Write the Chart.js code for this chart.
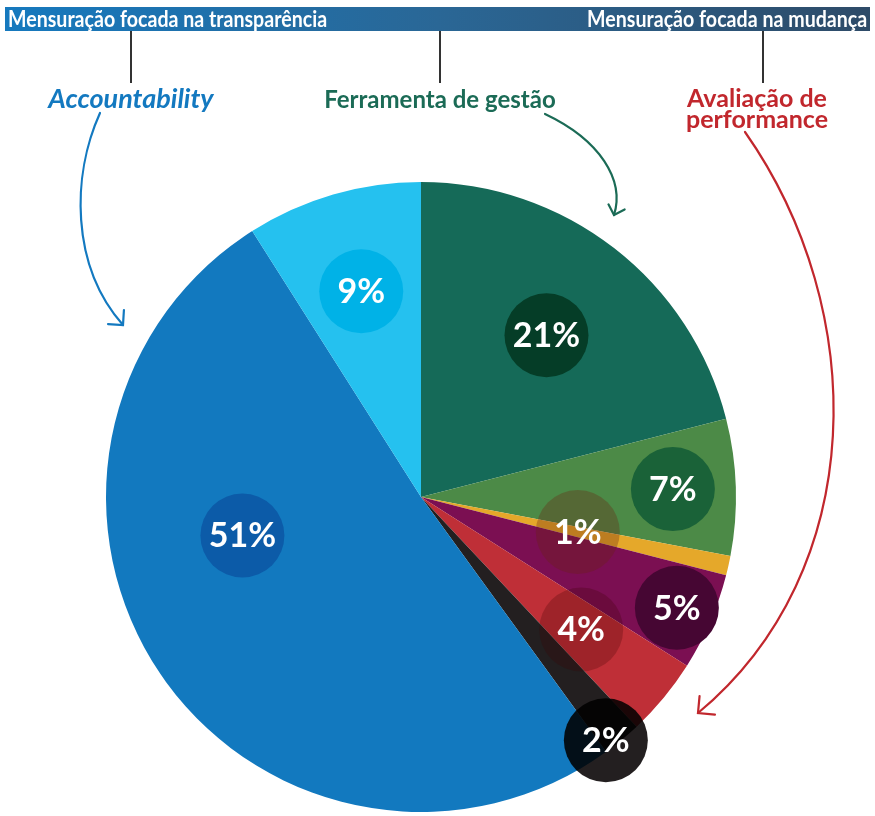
<!DOCTYPE html>
<html>
<head>
<meta charset="utf-8">
<script src="https://cdn.jsdelivr.net/npm/chart.js@4.4.1/dist/chart.umd.min.js"></script>
<style>
body { margin: 0; background: #fff; }
#wrap { position: relative; width: 875px; height: 816px; overflow: hidden; }
#topbar {
    position: absolute; left: 5px; top: 7px; width: 865px; height: 24px;
    background: linear-gradient(to right, #1679be, #2a6796 50%, #2e4b68);
    color: #fff; font-family: Lato, "Noto Sans", sans-serif;
    font-weight: bold; font-size: 22px; line-height: 24px;
}
#topbar span { position: absolute; top: 0; display: inline-block; white-space: nowrap; }
#topbar .l { left: 3px; transform-origin: left center; }
#topbar .r { right: 3px; transform-origin: right center; }
.tag {
    position: absolute; font-family: Lato, "Noto Sans", sans-serif; font-weight: bold;
    font-size: 24px; line-height: 22px; text-align: center; width: 260px;
}
canvas { position: absolute; left: 0; top: 0; }
</style>
</head>
<body>
<div id="wrap">
    <canvas id="chartPie" width="875" height="816"></canvas>
    <div id="topbar">
        <span class="l" data-w="319">Mensuração focada na transparência</span>
        <span class="r" data-w="280">Mensuração focada na mudança</span>
    </div>
    <div class="tag" style="left:1px; top:87px; color:#1379c0; font-style:italic; font-size:27px;">Accountability</div>
    <div class="tag" style="left:310px; top:88px; color:#1b6b56;">Ferramenta de gestão</div>
    <div class="tag" style="left:627px; top:87px; color:#c1272d; font-size:25px; line-height:21px;">Avaliação de<br>performance</div>
</div>
<script>
// ajusta largura do texto da barra (fonte condensada nao disponivel)
document.querySelectorAll('#topbar span').forEach(function(s) {
    s.style.transform = 'scaleX(' + (s.dataset.w / s.offsetWidth) + ')';
});

// fatias no sentido horário a partir do topo
var categorias = ['Ferramenta de gestão A', 'Ferramenta de gestão B', 'Avaliação de performance A',
    'Avaliação de performance B', 'Avaliação de performance C', 'Avaliação de performance D',
    'Accountability A', 'Accountability B'];
var valores = [21, 7, 1, 5, 4, 2, 51, 9];
var rotulos = ['21%', '7%', '1%', '5%', '4%', '2%', '51%', '9%'];

var coresFatia = ['#156a58', '#4c8a47', '#e5a82a', '#7b0f52', '#bf2f37', '#231f20', '#1279bf', '#25c1ef'];
// circulos dos rotulos: cor, modo de mistura, posicao relativa (fração do angulo, fração do raio)
var circulos = [
    { cor: '#053d27', modo: 'source-over', a: 0.5, r: 0.65 },
    { cor: '#1a6238', modo: 'source-over', a: 0.5, r: 0.80 },
    { cor: 'rgba(105,35,15,0.32)', modo: 'source-over', a: 0.5, r: 0.51 },
    { cor: '#460633', modo: 'source-over', a: 0.5, r: 0.885 },
    { cor: 'rgba(60,0,0,0.25)', modo: 'source-over', a: 0.5, r: 0.66 },
    { cor: '#231f20', modo: 'multiply', a: 0.83, r: 0.97 },
    { cor: '#0c5ba8', modo: 'source-over', a: 0.62, r: 0.58 },
    { cor: '#00b2e7', modo: 'source-over', a: 0.5, r: 0.68 }
];

function seta(ctx, pts, cor, braco) {
    ctx.save();
    ctx.strokeStyle = cor;
    ctx.lineWidth = 2.2;
    ctx.lineCap = 'round';
    ctx.beginPath();
    ctx.moveTo(pts[0][0], pts[0][1]);
    ctx.bezierCurveTo(pts[1][0], pts[1][1], pts[2][0], pts[2][1], pts[3][0], pts[3][1]);
    ctx.stroke();
    // ponta da seta
    var ang = Math.atan2(pts[3][1] - pts[2][1], pts[3][0] - pts[2][0]);
    ctx.beginPath();
    ctx.moveTo(pts[3][0] + braco * Math.cos(ang + Math.PI * 0.75), pts[3][1] + braco * Math.sin(ang + Math.PI * 0.75));
    ctx.lineTo(pts[3][0], pts[3][1]);
    ctx.lineTo(pts[3][0] + braco * Math.cos(ang - Math.PI * 0.75), pts[3][1] + braco * Math.sin(ang - Math.PI * 0.75));
    ctx.stroke();
    ctx.restore();
}

var decoracao = {
    id: 'decoracao',
    afterDraw: function(chart) {
        var ctx = chart.ctx;
        // linhas verticais sob a barra
        ctx.save();
        ctx.strokeStyle = '#333';
        ctx.lineWidth = 2;
        [131, 440, 763].forEach(function(x) {
            ctx.beginPath();
            ctx.moveTo(x, 31);
            ctx.lineTo(x, 83);
            ctx.stroke();
        });
        ctx.restore();

        seta(ctx, [[100, 113], [72, 175], [70, 265], [123, 325]], '#1379c0', 15);
        seta(ctx, [[545, 114], [600, 140], [625, 180], [614, 215]], '#1b6b56', 12);
        seta(ctx, [[745, 132], [870, 310], [870, 570], [698, 713]], '#c1272d', 17);
    },
    afterDatasetsDraw: function(chart) {
        var ctx = chart.ctx;
        var arcs = chart.getDatasetMeta(0).data;
        arcs.forEach(function(arc, i) {
            var c = circulos[i];
            var ang = arc.startAngle + (arc.endAngle - arc.startAngle) * c.a;
            var rr = arc.outerRadius * c.r;
            var x = arc.x + rr * Math.cos(ang);
            var y = arc.y + rr * Math.sin(ang);
            ctx.save();
            ctx.globalCompositeOperation = c.modo;
            ctx.fillStyle = c.cor;
            ctx.beginPath();
            ctx.arc(x, y, 42, 0, Math.PI * 2);
            ctx.fill();
            ctx.restore();
            ctx.save();
            ctx.fillStyle = '#fff';
            ctx.font = 'bold 34px Lato, "Noto Sans", sans-serif';
            ctx.textAlign = 'center';
            ctx.textBaseline = 'middle';
            ctx.fillText(rotulos[i], x, y + 1);
            ctx.restore();
        });
    }
};

var chartPie = new Chart(document.getElementById('chartPie'), {
    type: 'pie',
    data: {
        labels: categorias,
        datasets: [{
            data: valores,
            backgroundColor: coresFatia,
            borderWidth: 0,
            hoverOffset: 0
        }]
    },
    options: {
        responsive: false,
        animation: false,
        devicePixelRatio: 1,
        layout: {
            padding: { left: 106, right: 139, top: 182, bottom: 4 }
        },
        plugins: {
            legend: { display: false },
            tooltip: { enabled: false }
        }
    },
    plugins: [decoracao]
});
</script>
</body>
</html>
